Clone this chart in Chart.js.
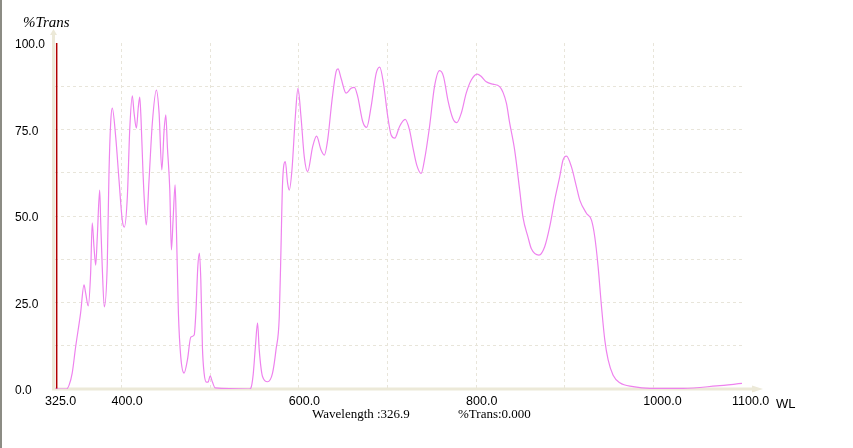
<!DOCTYPE html>
<html>
<head>
<meta charset="utf-8">
<script src="https://cdn.jsdelivr.net/npm/chart.js@4.4.1/dist/chart.umd.min.js"></script>
<style>
html,body{margin:0;padding:0;background:#fff;overflow:hidden}
#wrap{position:relative;width:853px;height:448px}
canvas{display:block}
</style>
</head>
<body>
<div id="wrap"><canvas id="c" width="853" height="448"></canvas></div>
<script>
// ---- data ----
const wavelengths = [
  325, 338, 341, 344.4, 348.3, 353.9, 357.7, 359.6, 362.5, 365.2, 367, 369, 370.9, 372.7, 375.4, 376.5,
  378.3, 380.6, 384, 385.9, 387.8, 389.6, 393.5, 397.2, 400.9, 403.2, 406.6, 409.3, 412.2, 414.2, 416.8,
  419, 420.6, 422.1, 424.3, 426.6, 428, 431.1, 434.8, 439.4, 442.4, 445.5, 448.1, 450, 451.8, 454.5,
  456.3, 458.2, 460.5, 462, 464.2, 466.9, 470.6, 474.4, 478.2, 482, 483.9, 486.1, 487.9, 489.5, 491.3,
  493.2, 495.8, 497.8, 500, 502.6, 505.7, 544, 546, 548.5, 551, 553.5, 555.4, 559.1, 564.8, 570.4,
  574.3, 578, 579.9, 581.7, 584.8, 587.4, 589.3, 592.3, 596.1, 599.1, 602.5, 606.2, 610, 615.6, 620.1,
  625.1, 628.8, 632.6, 637.5, 642.1, 644.3, 647.7, 653.4, 659, 662.7, 666.5, 672.1, 676.6, 681.6, 687.3,
  691.3, 695.5, 700.4, 704.2, 708.3, 713.6, 720, 724.9, 728.6, 733.1, 738.1, 741.8, 747.5, 753.1, 758.8,
  763.3, 768.2, 773.8, 778.3, 783.3, 788.9, 794.6, 801.4, 805.9, 811.5, 819, 826.6, 834.2, 837.9, 843.5,
  849.2, 852.9, 858.6, 862.4, 871, 877.4, 883.1, 888.7, 894.4, 898.1, 902, 907.6, 913.2, 917, 924.5,
  930.2, 933.9, 937.7, 941.5, 945.2, 949, 954.6, 962.2, 977.2, 996.1, 1033.7, 1071.4, 1100
];
const transmittance = [
  0, 0, 1.2, 4.6, 12.2, 22, 30.1, 27.7, 24, 33.5, 48, 41, 35.8, 43.9, 57.5, 48.8,
  35.3, 23.7, 36.4, 62.4, 76.9, 81.2, 72.8, 60.4, 48.8, 46.8, 55.5, 74.9, 84.7, 79.8, 75.4,
  81.5, 84.4, 77.7, 62.4, 50.9, 47.4, 60.4, 76.9, 86.4, 79.8, 63.3, 74.9, 79.2, 69.9, 57.5,
  40.2, 48.8, 59, 46, 22, 9.2, 4.6, 8.4, 15, 15.6, 22, 35.3, 39.3, 31.5, 12.1,
  4.6, 2, 2, 3.8, 2, 0.3, 0, 0.3, 4, 12, 19.1, 11.3, 3.6, 2.1, 4.6,
  11.3, 20.9, 40.2, 59.5, 65.7, 59.5, 57.5, 63.3, 78.7, 86.9, 78.7, 67.1, 62.8, 70, 73.1,
  69.1, 67.6, 72, 83.5, 91.7, 92.5, 89.8, 85.5, 86.9, 87.2, 84.5, 77.3, 75.6, 81.6, 91.2,
  93, 88.4, 78.7, 73.4, 72.5, 75.8, 77.9, 74.9, 70, 64.7, 62.3, 66.2, 75.8, 87.4, 92,
  90.3, 83.5, 78.2, 77, 79.7, 85.5, 89.3, 91, 90.3, 88.8, 88.1, 87.4, 82.6, 76.9, 69.1,
  57.5, 49.7, 43.9, 40.5, 38.7, 41.1, 46.9, 54.6, 61.4, 66.2, 67.3, 64.2, 58.5, 54.6, 50.8,
  48.8, 44, 35.3, 23.8, 14.2, 8.4, 4, 1.8, 0.7, 0.2, 0.2, 0.9, 1.6
];
const xTickValues = [325, 400, 500, 600, 700, 800, 900, 1000, 1100];
const xTickLabels = {325: '325.0', 400: '400.0', 600: '600.0', 800: '800.0', 1000: '1000.0', 1100: '1100.0'};
const yLabelValues = [0, 25, 50, 75, 100];
const cursorWavelength = 326.9;
const cursorTrans = 0.000;
const xMin = 325, xMax = 1100, yMin = 0, yMax = 100;

// ---- build chart ----
const curve = wavelengths.map((w, i) => ({x: w, y: transmittance[i]}));
const cursor = [{x: cursorWavelength, y: yMin}, {x: cursorWavelength, y: yMax}];

const AXIS = '#ece9d8';
const GRID = '#e8e5da';

const decor = {
  id: 'decor',
  beforeDatasetsDraw(chart) {
    const ctx = chart.ctx;
    const xs = chart.scales.x, ys = chart.scales.y;
    const y0 = ys.getPixelForValue(yMin);
    const x0 = xs.getPixelForValue(xMin);
    const yTop = ys.getPixelForValue(yMax);
    const xEnd = xs.getPixelForValue(xMax);
    ctx.save();
    ctx.fillStyle = AXIS;
    // x axis line + arrow
    ctx.fillRect(x0 - 3, y0 - 1.5, xEnd + 13 - (x0 - 3), 3);
    ctx.beginPath();
    ctx.moveTo(xEnd + 21, y0);
    ctx.lineTo(xEnd + 10, y0 - 3.5);
    ctx.lineTo(xEnd + 10, y0 + 3.5);
    ctx.closePath();
    ctx.fill();
    // y axis line + arrow
    ctx.fillRect(x0 - 3, yTop - 9, 3, y0 - (yTop - 9));
    ctx.beginPath();
    ctx.moveTo(x0 - 1.5, yTop - 14);
    ctx.lineTo(x0 - 5, yTop - 8);
    ctx.lineTo(x0 + 2, yTop - 8);
    ctx.closePath();
    ctx.fill();
    ctx.restore();
  },
  afterDraw(chart) {
    const ctx = chart.ctx;
    ctx.save();
    ctx.fillStyle = '#8c8c84';
    ctx.fillRect(0, 0, 2, 448);
    ctx.fillStyle = '#000';
    ctx.textBaseline = 'alphabetic';
    ctx.textAlign = 'left';
    ctx.font = 'italic 15px "Liberation Serif"';
    ctx.fillText('%Trans', 23, 27);
    ctx.font = '13px "Liberation Sans"';
    ctx.fillText('WL', 776, 408);
    ctx.font = '13px "Liberation Serif"';
    ctx.fillText('Wavelength :' + cursorWavelength.toFixed(1), 312, 418);
    ctx.fillText('%Trans:' + cursorTrans.toFixed(3), 458, 418);
    ctx.restore();
  }
};

new Chart(document.getElementById('c'), {
  type: 'line',
  data: {
    datasets: [
      {data: curve, borderColor: '#ee82ee', borderWidth: 1.2, pointRadius: 0, fill: false,
       cubicInterpolationMode: 'monotone'},
      {data: cursor, borderColor: '#b00000', borderWidth: 1.5, pointRadius: 0, fill: false}
    ]
  },
  options: {
    responsive: false,
    animation: false,
    devicePixelRatio: 1,
    plugins: {legend: {display: false}, tooltip: {enabled: false}},
    layout: {padding: {left: 15, top: 43, right: 111, bottom: 29}},
    scales: {
      x: {
        type: 'linear', min: xMin, max: xMax,
        afterBuildTicks(scale) { scale.ticks = xTickValues.map(v => ({value: v})); },
        afterFit(scale) { scale.height = 30; },
        ticks: {
          autoSkip: false, maxRotation: 0, align: 'start', labelOffset: -10, padding: 5,
          color: '#000', font: {family: 'Liberation Sans', size: 12.5},
          callback: v => xTickLabels[v] || ''
        },
        grid: {
          drawTicks: false, lineWidth: 1,
          color: c => (c.tick && (c.tick.value === xMin || c.tick.value === xMax)) ? 'rgba(0,0,0,0)' : GRID
        },
        border: {display: false, dash: [3, 3]}
      },
      y: {
        min: yMin, max: yMax,
        afterFit(scale) { scale.width = 40; },
        ticks: {
          stepSize: 12.5, crossAlign: 'far', padding: 0, labelOffset: 2,
          color: '#000', font: {family: 'Liberation Sans', size: 12},
          callback: v => yLabelValues.includes(v) ? v.toFixed(1) : ''
        },
        grid: {
          drawTicks: false, lineWidth: 1,
          color: c => (c.tick && (c.tick.value === yMin || c.tick.value === yMax)) ? 'rgba(0,0,0,0)' : GRID
        },
        border: {display: false, dash: [3, 3]}
      }
    }
  },
  plugins: [decor]
});
</script>
</body>
</html>
